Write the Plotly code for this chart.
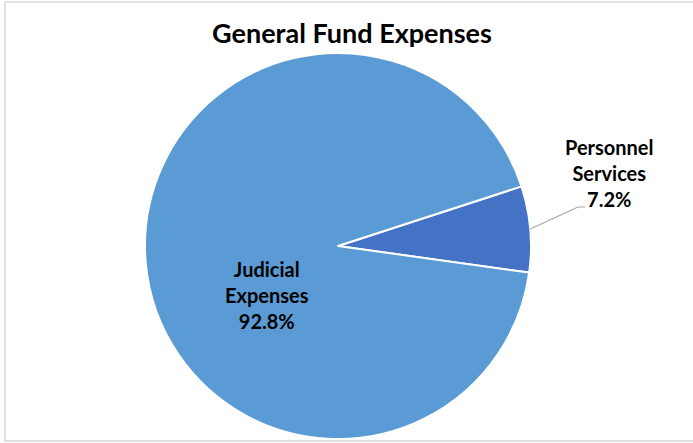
import numpy as np
import plotly.graph_objects as go

# Data
categories = ["Personnel Services", "Judicial Expenses"]
shares = [7.2, 92.8]
colors = ["#4472C4", "#5B9BD5"]

W, H = 693, 443
# pie geometry in pixels
cx, cy, r = 338, 246, 193
start_deg = 18.0  # standard-angle where the first slice begins (clockwise drawing)


def px(x):
    return x / W


def py(y):
    return 1 - y / H


fig = go.Figure(
    go.Pie(
        labels=categories,
        values=shares,
        sort=False,
        direction="clockwise",
        rotation=90 - start_deg,
        marker=dict(colors=colors, line=dict(color="white", width=2)),
        textinfo="none",
        hoverinfo="label+percent",
        domain=dict(x=[px(cx - r), px(cx + r)], y=[py(cy + r), py(cy - r)]),
        showlegend=False,
    )
)

# leader line for the small slice, starting at its mid-angle on the rim
mid = np.deg2rad(start_deg - shares[0] / 100 * 360 / 2)
x0 = cx + r * np.cos(mid)
y0 = cy - r * np.sin(mid)
lx, ly = 578, 207
fig.add_shape(type="path", xref="paper", yref="paper",
              path=f"M {px(x0)},{py(y0)} L {px(lx)},{py(ly)} L {px(lx + 7)},{py(ly)}",
              line=dict(color="#A6A6A6", width=1.2))

# chart border
fig.add_shape(type="rect", xref="paper", yref="paper",
              x0=px(5), x1=px(W + 5), y0=py(441), y1=py(2),
              line=dict(color="#D9D9D9", width=1.5), fillcolor="rgba(0,0,0,0)")

label_font = dict(family="Lato", size=20, color="black")

fig.add_annotation(
    x=px(267), y=py(295), xref="paper", yref="paper", showarrow=False,
    text=f"<b>Judicial<br>Expenses<br>{shares[1]:.1f}%</b>",
    font=label_font, align="center", xanchor="center", yanchor="middle",
)
fig.add_annotation(
    x=px(609), y=py(173), xref="paper", yref="paper", showarrow=False,
    text=f"<b>Personnel<br>Services<br>{shares[0]:.1f}%</b>",
    font=label_font, align="center", xanchor="center", yanchor="middle",
)

fig.update_layout(
    width=W, height=H,
    margin=dict(l=0, r=0, t=0, b=0),
    paper_bgcolor="white",
    title=dict(text="<b>General Fund Expenses</b>", x=px(352), xanchor="center",
               y=py(34), yanchor="middle",
               font=dict(family="Lato", size=27, color="black")),
)

fig.write_html("out.html")
